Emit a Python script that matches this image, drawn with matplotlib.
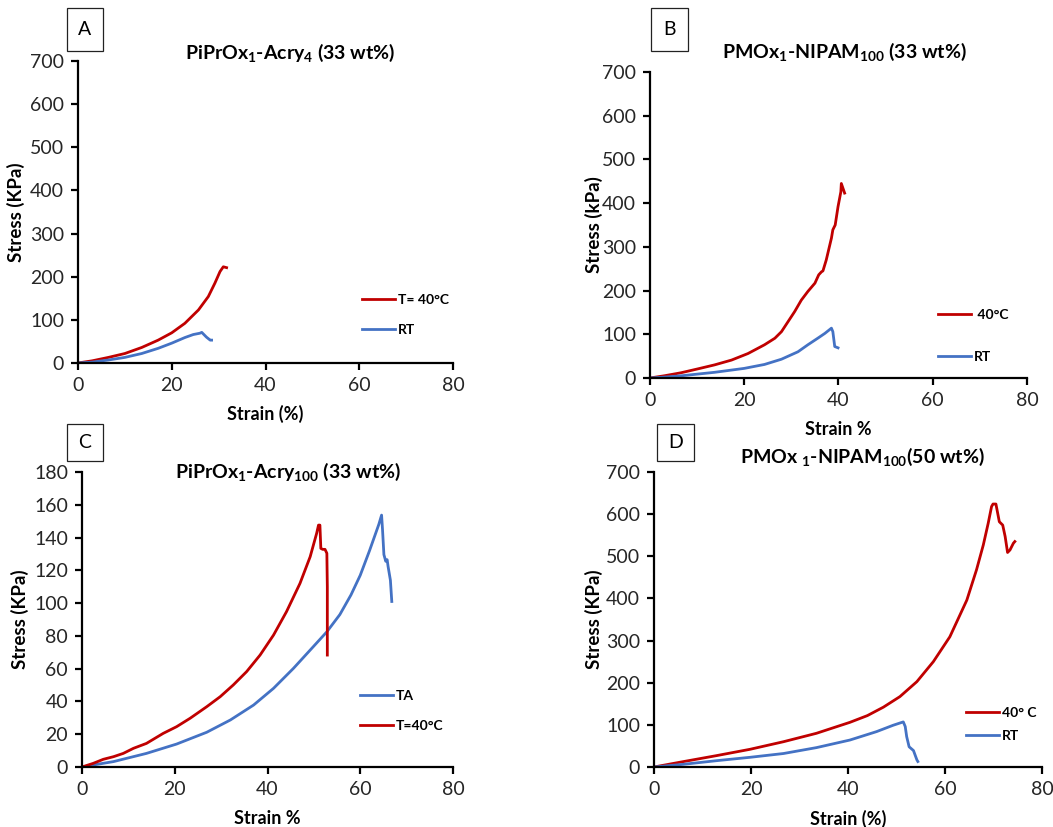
import numpy as np
import matplotlib.pyplot as plt
from matplotlib.patches import Rectangle

plt.rcParams['font.family'] = ['Lato', 'DejaVu Sans']
plt.rcParams['mathtext.fontset'] = 'custom'
plt.rcParams['mathtext.rm'] = 'Lato'
plt.rcParams['mathtext.bf'] = 'Lato:bold'

RED = '#C00000'
BLUE = '#4472C4'

# Panel A: PiPrOx1-Acry4 (33 wt%)
a_red_x = [0, 3, 6.5, 10, 13.6, 17.1, 20, 22.8, 25.7, 27.8, 29.2, 30.3, 31, 31.7]
a_red_y = [0, 5, 13, 22, 36, 53, 70, 92, 123, 154, 185, 212, 223, 221]
a_blue_x = [0, 3, 6.5, 10, 13.6, 17.1, 20, 22.8, 24.6, 26.0, 26.4, 27.4, 28.2, 28.5]
a_blue_y = [0, 2, 7, 13, 22, 34, 46, 59, 66, 69, 71, 60, 53, 53]

# Panel B: PMOx1-NIPAM100 (33 wt%)
b_red_x = [0, 3, 6.6, 10.2, 13.7, 17.3, 20.8, 24.3, 26.5, 27.9, 29.3, 30.7, 32.1, 33.5, 35, 35.8,
           36.4, 36.7, 37.4, 38.5, 38.8, 39.3, 39.9, 40.5, 40.6, 41.3]
b_red_y = [0, 5, 12, 21, 30, 41, 56, 76, 91, 106, 129, 152, 178, 198, 217, 236,
           243, 245, 270, 320, 339, 350, 392, 426, 445, 423]
b_blue_x = [0, 3, 6.6, 13.7, 20, 24.3, 27.9, 31.4, 33.5, 35.6, 37.1, 38.5, 38.8, 39.2, 39.9]
b_blue_y = [0, 2, 5, 13, 22, 31, 43, 60, 76, 91, 102, 114, 106, 72, 69]

# Panel C: PiPrOx1-Acry100 (33 wt%)
c_blue_x = [0, 3, 6.8, 13.9, 20.4, 26.9, 32, 37, 41.3, 45.6, 49.9, 52.8, 55.6, 58, 60, 62, 64,
            64.6, 64.8, 65.1, 65.5, 65.8, 66, 66.5, 66.8]
c_blue_y = [0, 1.5, 3.3, 8.3, 14, 21.2, 28.7, 37.8, 48, 60.2, 73.5, 82.5, 93, 105, 117, 132, 148,
            153.7, 145, 129.6, 125.5, 126.5, 122.4, 114, 101]
c_red_x = [0, 2.4, 4.6, 6.8, 8.9, 11.1, 13.9, 17.5, 20.4, 23.3, 26.9, 29.8, 32.6, 35.5, 38.4,
           41.3, 44.1, 47, 49.2, 50.6, 51.0, 51.3, 51.5, 51.9, 52.4, 52.8, 52.9, 52.9]
c_red_y = [0, 2.2, 4.7, 6.3, 8.3, 11.4, 14.4, 20.5, 24.6, 29.7, 36.8, 42.9, 50, 58.2, 68.3,
           80.5, 94.8, 112, 128.3, 142.6, 147.6, 147.6, 133.4, 132.8, 132.8, 130.4, 110, 68.3]

# Panel D: PMOx1-NIPAM100 (50 wt%)
d_red_x = [0, 6.0, 12.9, 19.8, 26.7, 33.5, 40.4, 44, 47.3, 50.7, 54.2, 57.6, 61, 64.5, 66.5, 67.9,
           68.9, 69.6, 69.9, 70.5, 71.2, 71.9, 72.4, 72.9, 73.4, 74.1, 74.4]
d_red_y = [0, 12.7, 27, 42, 60, 80, 106, 122, 142, 167, 202.5, 250, 309, 396, 468, 527,
           578, 618, 624, 624, 582, 574, 547, 509, 515, 531, 535]
d_blue_x = [0, 6, 12.9, 19.8, 26.7, 33.5, 40.4, 45.9, 49.3, 51.4, 51.8, 52.1, 52.6, 53.5, 54.2, 54.4]
d_blue_y = [0, 6.3, 15, 23, 32, 46, 64, 84, 99, 107, 96, 72, 48, 39, 17, 13]

W, H = 1053, 827
fig = plt.figure(figsize=(W / 100, H / 100), dpi=100)


def make_axes(left, top, right, bottom):
    return fig.add_axes([left / W, 1 - bottom / H, (right - left) / W, (bottom - top) / H])


def style(ax, ymax, ystep, xlabel, ylabel, xlab_off, ylab_off):
    ax.set_xlim(0, 80)
    ax.set_ylim(0, ymax)
    ax.set_xticks(range(0, 81, 20))
    ax.set_yticks(range(0, ymax + 1, ystep))
    for s in ['top', 'right']:
        ax.spines[s].set_visible(False)
    for s in ['left', 'bottom']:
        ax.spines[s].set_linewidth(1.6)
    ax.tick_params(direction='out', length=5, width=1.6, labelsize=14,
                   labelcolor='#262626', pad=5)
    ax.set_xlabel(xlabel, fontsize=13, fontweight='bold')
    ax.set_ylabel(ylabel, fontsize=13.5, fontweight='bold')
    ax.xaxis.set_label_coords(0.5, xlab_off)
    ax.yaxis.set_label_coords(ylab_off, 0.5)


def panel_box(letter, x0, y0, x1, y1):
    fig.add_artist(Rectangle((x0 / W, 1 - y1 / H), (x1 - x0) / W, (y1 - y0) / H,
                             transform=fig.transFigure, fill=False, lw=0.9, ec='#222222'))
    fig.text((x0 + x1) / 2 / W, 1 - (y0 + y1) / 2 / H, letter, ha='center', va='center',
             fontsize=14)


def legend(ax, x, y, spacing):
    ax.legend(loc='center left', bbox_to_anchor=(x, y), frameon=False, borderpad=0,
              borderaxespad=0, handlelength=2.4, handletextpad=0.2, labelspacing=spacing,
              prop={'size': 10, 'weight': 'bold'})


# A
axA = make_axes(78, 61, 453, 363)
axA.plot(a_red_x, a_red_y, color=RED, lw=2, label='T= 40°C')
axA.plot(a_blue_x, a_blue_y, color=BLUE, lw=2, label='RT')
style(axA, 700, 100, 'Strain (%)', 'Stress (KPa)', -42 / 302, -53 / 375)
legend(axA, 0.757, 0.159, 1.3)
fig.text(290 / W, 1 - 53 / H, r'PiPrOx$_\mathbf{1}$-Acry$_\mathbf{4}$ (33 wt%)',
         ha='center', va='center', fontsize=14, fontweight='bold')
panel_box('A', 67, 8, 103, 51)

# B
axB = make_axes(650, 72, 1027, 378)
axB.plot(b_red_x, b_red_y, color=RED, lw=2, label=' 40°C')
axB.plot(b_blue_x, b_blue_y, color=BLUE, lw=2, label='RT')
style(axB, 700, 100, 'Strain %', 'Stress (kPa)', -43 / 306, -47 / 377)
legend(axB, 0.764, 0.137, 2.2)
fig.text(844 / W, 1 - 52 / H, r'PMOx$_\mathbf{1}$-NIPAM$_\mathbf{100}$ (33 wt%)',
         ha='center', va='center', fontsize=14, fontweight='bold')
panel_box('B', 651, 8, 688, 51)

# C
axC = make_axes(82, 472, 453, 767)
axC.plot(c_blue_x, c_blue_y, color=BLUE, lw=2, label='TA')
axC.plot(c_red_x, c_red_y, color=RED, lw=2, label='T=40°C')
style(axC, 180, 20, 'Strain %', 'Stress (KPa)', -43 / 295, -53 / 371)
legend(axC, 0.749, 0.19, 1.3)
fig.text(288 / W, 1 - 472 / H, r'PiPrOx$_\mathbf{1}$-Acry$_\mathbf{100}$ (33 wt%)',
         ha='center', va='center', fontsize=14, fontweight='bold')
panel_box('C', 67, 424, 103, 461)

# D
axD = make_axes(654, 472, 1042, 767)
axD.plot(d_red_x, d_red_y, color=RED, lw=2, label='40° C')
axD.plot(d_blue_x, d_blue_y, color=BLUE, lw=2, label='RT')
style(axD, 700, 100, 'Strain (%)', 'Stress (KPa)', -43 / 295, -51 / 388)
legend(axD, 0.804, 0.144, 0.75)
fig.text(862 / W, 1 - 457 / H, r'PMOx $_\mathbf{1}$-NIPAM$_\mathbf{100}$(50 wt%)',
         ha='center', va='center', fontsize=14, fontweight='bold')
panel_box('D', 657, 424, 694, 461)

fig.savefig('out.png', dpi=100)
